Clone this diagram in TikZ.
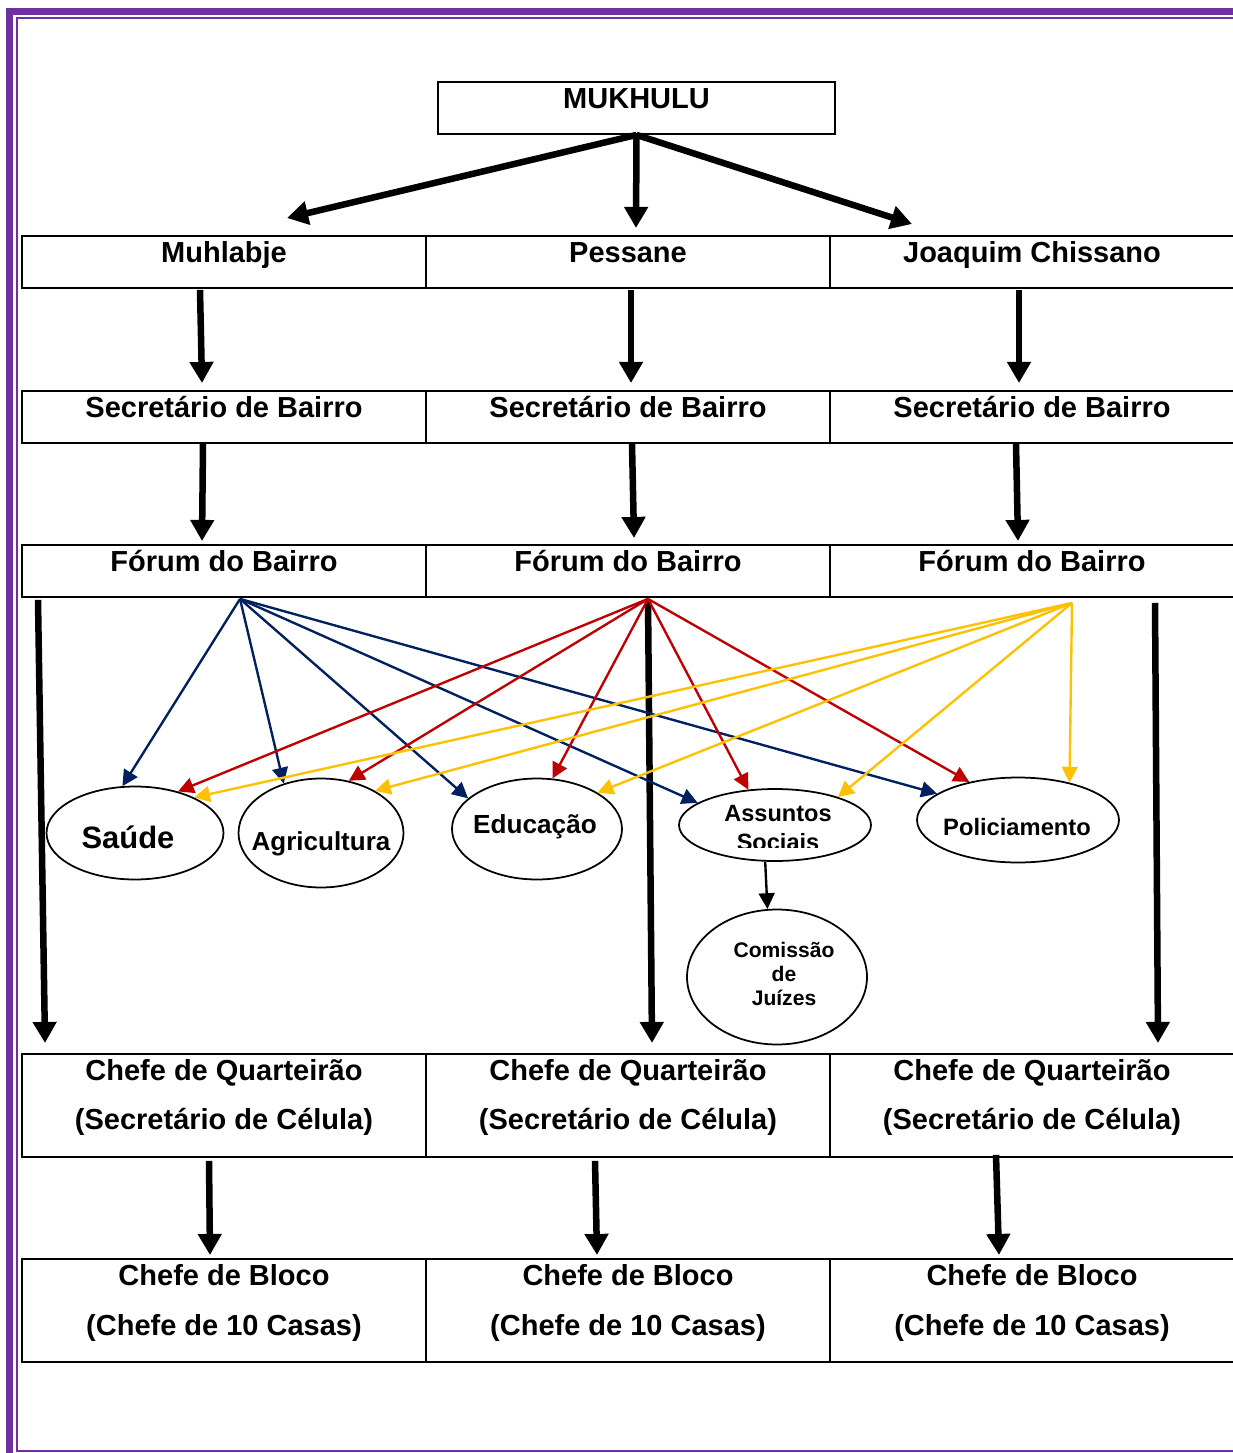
\documentclass[tikz,border=0pt]{standalone}
\usepackage{fontspec}
\setmainfont{Liberation Sans}
\usetikzlibrary{positioning, arrows.meta, shapes.geometric}
\definecolor{frmPurple}{HTML}{7030A0}
\definecolor{lnkBlue}{HTML}{002060}
\definecolor{lnkRed}{HTML}{C00000}
\definecolor{lnkGold}{HTML}{FFC000}
\newcommand{\hdfont}{\bfseries\fontsize{16.5}{19}\selectfont}
\tikzset{
  every node/.style={font=\hdfont},
  cell/.style={draw, line width=1.1pt, anchor=north, minimum width=8.08cm, minimum height=1.04cm, inner sep=0pt},
  cellTall/.style={cell, minimum height=2.06cm},
  lbl/.style={anchor=base, inner sep=0pt},
  area/.style={draw, ellipse, line width=1pt, inner sep=0pt},
  big/.style={-{Triangle[length=12pt, width=13pt]}, line width=3.7pt},
  lnk/.style={-{Triangle[length=9pt, width=9pt]}, line width=1.35pt},
}

\begin{document}
\begin{tikzpicture}[x=0.02cm, y=-0.02cm]
  \useasboundingbox (0,0) rectangle (1232,1453);
  % frame
  \draw[frmPurple, line width=0.14cm] (9.5,11.5) rectangle (1300,1520);
  \draw[frmPurple, line width=0.04cm] (17,18) rectangle (1300,1451);

  % top box
  \node[cell, minimum width=7.94cm] (mukhulu) at (636.5,81) {};
  \node[lbl] at ([yshift=-0.55cm]mukhulu.north) {MUKHULU};

  % bairros
  \foreach \i/\x/\t in {1/224/Muhlabje, 2/628/Pessane, 3/1032/Joaquim Chissano} {
    \node[cell] (b\i) at (\x,235) {};
    \node[lbl] at ([yshift=-0.55cm]b\i.north) {\t};
  }
  % rows under each bairro
  \foreach \i/\x in {1/224, 2/628, 3/1032} {
    \node[cell] (s\i) at (\x,390) {};
    \node[lbl] at ([yshift=-0.56cm]s\i.north) {Secretário de Bairro};
    \node[cell] (f\i) at (\x,544) {};
    \node[lbl] at ([yshift=-0.56cm]f\i.north) {Fórum do Bairro};
    \node[cellTall] (q\i) at (\x,1053) {};
    \node[lbl] at ([yshift=-0.54cm]q\i.north) {Chefe de Quarteirão};
    \node[lbl] at ([yshift=-1.54cm]q\i.north) {(Secretário de Célula)};
    \node[cellTall] (k\i) at (\x,1258) {};
    \node[lbl] at ([yshift=-0.54cm]k\i.north) {Chefe de Bloco};
    \node[lbl] at ([yshift=-1.54cm]k\i.north) {(Chefe de 10 Casas)};
  }

  % areas
  \node[area, minimum width=3.54cm, minimum height=1.86cm] (saude) at (135,833) {};
  \node[lbl, font=\bfseries\fontsize{17.6}{20}\selectfont] at ([shift={(-7,15)}]saude.center) {Saúde};
  \node[area, minimum width=3.3cm, minimum height=2.18cm] (agri) at (321,833) {};
  \node[lbl, font=\bfseries\fontsize{14.8}{17}\selectfont] at ([shift={(0,17)}]agri.center) {Agricultura};
  \node[area, minimum width=3.4cm, minimum height=2.02cm] (edu) at (537,829) {};
  \node[lbl, font=\bfseries\fontsize{14.9}{17}\selectfont] at ([shift={(-2,4)}]edu.center) {Educação};
  \node[area, minimum width=3.84cm, minimum height=1.44cm] (social) at (775,825) {};
  \begin{scope}
    \clip (680,790) rectangle (880,847);
    \node[align=center, inner sep=0pt, font=\bfseries\fontsize{13.4}{17}\selectfont] at ([shift={(3,3)}]social.center) {Assuntos\\Sociais};
  \end{scope}
  \node[area, minimum width=4.04cm, minimum height=1.7cm] (police) at (1018,820) {};
  \node[lbl, font=\bfseries\fontsize{13.5}{16}\selectfont] at ([shift={(-1,15)}]police.center) {Policiamento};
  \node[area, minimum width=3.6cm, minimum height=2.7cm] (juizes) at (777,977) {};
  \node[align=center, inner sep=0pt, font=\bfseries\fontsize{12}{13.9}\selectfont] at ([shift={(7,-3)}]juizes.center) {Comissão\\de\\Juízes};

  % hierarchy arrows
  \draw[big] (mukhulu.south) -- ([shift={(63,-17)}]b1.north);
  \draw[big] (mukhulu.south) -- ([shift={(8,-7)}]b2.north);
  \draw[big] (mukhulu.south) -- ([shift={(-120,-11)}]b3.north);
  \draw[big] ([shift={(-24,1)}]b1.south) -- ([shift={(-22,-7)}]s1.north);
  \draw[big] ([shift={(3,1)}]b2.south) -- ([shift={(3,-7)}]s2.north);
  \draw[big] ([shift={(-13,1)}]b3.south) -- ([shift={(-13,-7)}]s3.north);
  \draw[big] ([shift={(-21,0)}]s1.south) -- ([shift={(-22,-3)}]f1.north);
  \draw[big] ([shift={(4,0)}]s2.south) -- ([shift={(6,-6)}]f2.north);
  \draw[big] ([shift={(-16,0)}]s3.south) -- ([shift={(-14,-3)}]f3.north);
  \draw[big] ([shift={(-186,2)}]f1.south) -- ([shift={(-179,-10)}]q1.north);
  \draw[big] ([shift={(20,2)}]f2.south) -- ([shift={(24,-10)}]q2.north);
  \draw[big] ([shift={(123,5)}]f3.south) -- ([shift={(126,-10)}]q3.north);
  \draw[big] ([shift={(-15,3)}]q1.south) -- ([shift={(-14,-3)}]k1.north);
  \draw[big] ([shift={(-33,3)}]q2.south) -- ([shift={(-31,-3)}]k2.north);
  \draw[big] ([shift={(-36,-3)}]q3.south) -- ([shift={(-33,-3)}]k3.north);

  % links from each forum to the areas
  \coordinate (fBlue) at ([shift={(16,1)}]f1.south);
  \coordinate (fRed) at ([shift={(20,1)}]f2.south);
  \coordinate (fGold) at ([shift={(40,5)}]f3.south);
  \foreach \e/\a in {saude/105, agri/127, edu/156, social/164, police/162}
    \draw[lnk, lnkBlue] (fBlue) -- (\e.\a);
  \foreach \e/\a in {saude/44, agri/62, edu/73, social/127, police/142}
    \draw[lnk, lnkRed] (fRed) -- (\e.\a);
  \foreach \e/\a in {saude/31, agri/38, edu/31, social/24, police/36}
    \draw[lnk, lnkGold] (fGold) -- (\e.\a);
  \draw[lnk, black] (social.255) -- (juizes.98);
\end{tikzpicture}
\end{document}
